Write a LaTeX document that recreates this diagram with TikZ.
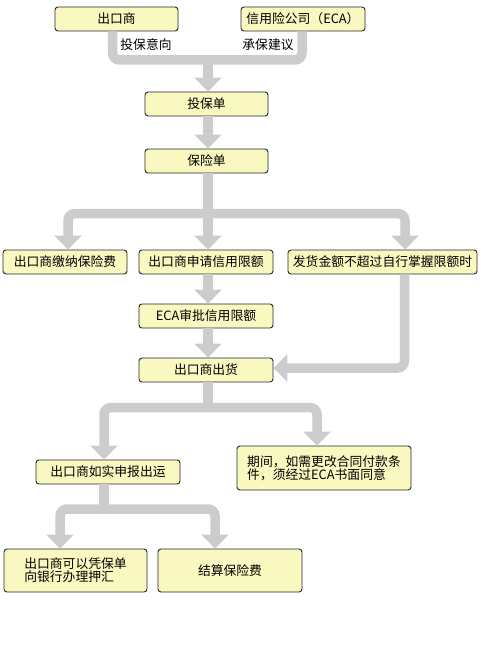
\documentclass[tikz,border=0pt]{standalone}
\usepackage{fontspec}
\setmainfont{Noto Sans CJK SC}
\usetikzlibrary{arrows.meta}
\definecolor{boxfill}{RGB}{249,248,192}
\definecolor{bargray}{RGB}{204,204,204}
\definecolor{boxline}{RGB}{40,40,40}
\tikzset{
  box/.style={draw=boxline, line width=0.9pt, fill=boxfill, rounded corners=3pt,
    font=\fontsize{12.8}{12.8}\selectfont, inner sep=1pt, align=center},
  bar/.style={draw=bargray, line width=9.5pt, rounded corners=7pt},
  bararrow/.style={bar, -{Triangle[width=27pt,length=14pt]}},
  lbl/.style={font=\fontsize{12.8}{13}\selectfont, fill=white, inner sep=1pt}
}
\begin{document}
\begin{tikzpicture}[x=1pt,y=-1pt]
\useasboundingbox[fill=white] (0,0) rectangle (480,650);
% nodes
\node[box, minimum width=123, minimum height=24] (ex) at (116.5,19) {出口商};
\node[box, minimum width=124, minimum height=24] (eca) at (303,19) {信用险公司（ECA）};
\node[box, minimum width=123, minimum height=24] (tbd) at (206.5,104) {投保单};
\node[box, minimum width=123, minimum height=24] (bxd) at (206.5,161) {保险单};
\node[box, minimum width=124, minimum height=24] (jn) at (65,262) {出口商缴纳保险费};
\node[box, minimum width=134, minimum height=24] (sq) at (206,262) {出口商申请信用限额};
\node[box, minimum width=189, minimum height=24] (fh) at (382.5,262) {发货金额不超过自行掌握限额时};
\node[box, minimum width=134, minimum height=24] (sp) at (206,316) {ECA审批信用限额};
\node[box, minimum width=134, minimum height=24] (ch) at (206,370) {出口商出货};
\node[box, minimum width=144, minimum height=24] (sb) at (108,472) {出口商如实申报出运};
\node[box, minimum width=174, minimum height=44, align=left] (qj) at (324,468) {期间，如需更改合同付款条\\件，须经过ECA书面同意};
\node[box, minimum width=143, minimum height=43, align=left] (yh) at (75.5,570.5) {出口商可以凭保单\\向银行办理押汇};
\node[box, minimum width=144, minimum height=43] (js) at (230,570.5) {结算保险费};
% connectors
\coordinate (j1) at (208,60);
\coordinate (j2) at (208,213.5);
\coordinate (j3) at (208,407.5);
\coordinate (j4) at (104,509);
\draw[bar] ([xshift=-4]ex.south) |- (j1);
\draw[bar] ([xshift=-1]eca.south) |- (j1);
\draw[bararrow] (j1) -- ([xshift=1.5]tbd.north);
\draw[bararrow] ([xshift=1.5]tbd.south) -- ([xshift=1.5]bxd.north);
\draw[bar] ([xshift=1.5]bxd.south) -- (j2);
\draw[bararrow] (j2) -| ([xshift=3]jn.north);
\draw[bararrow] (j2) -- ([xshift=2]sq.north);
\draw[bararrow] (j2) -| ([xshift=22.5]fh.north);
\draw[bararrow] ([xshift=2]sq.south) -- ([xshift=2]sp.north);
\draw[bararrow] ([xshift=2]sp.south) -- ([xshift=2]ch.north);
\draw[bararrow] ([xshift=22]fh.south) |- ([yshift=2]ch.east);
\draw[bar] ([xshift=2]ch.south) -- (j3);
\draw[bararrow] (j3) -| ([xshift=-4]sb.north);
\draw[bararrow] (j3) -| ([xshift=-7]qj.north);
\draw[bar] ([xshift=-4]sb.south) -- (j4);
\draw[bararrow] (j4) -| ([xshift=-15.5]yh.north);
\draw[bararrow] (j4) -| ([xshift=-15]js.north);
\node[lbl] (l1) at (146,45) {投保意向};
\node[lbl] (l2) at (268,45) {承保建议};
\end{tikzpicture}
\end{document}
